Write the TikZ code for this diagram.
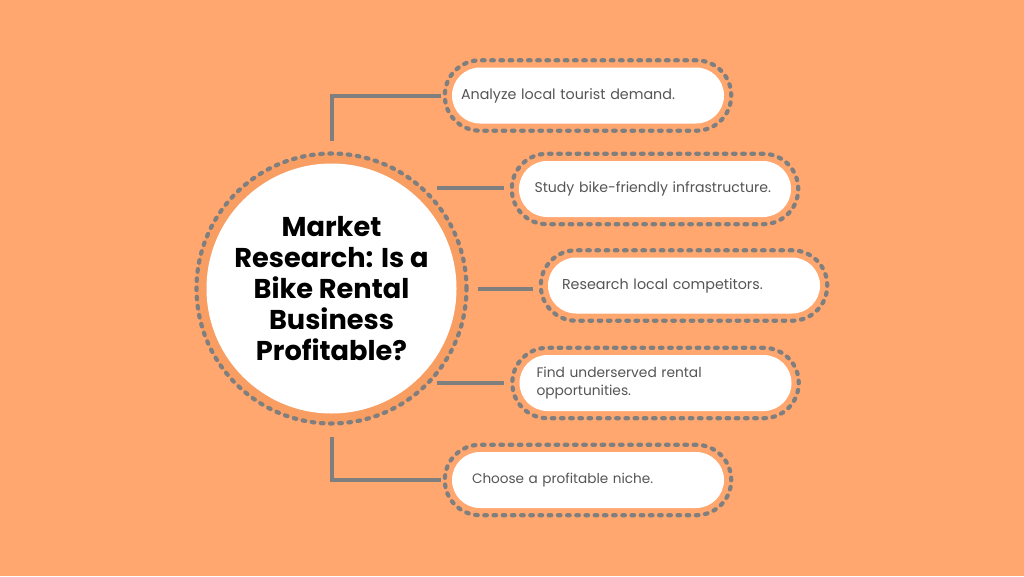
\documentclass[tikz,border=0pt]{standalone}
\usepackage{fontspec}
\setmainfont{Poppins}
\usetikzlibrary{fit,calc}
\hyphenpenalty=10000
\definecolor{bgorange}{HTML}{FFA76F}
\definecolor{ringorange}{HTML}{F89E63}
\definecolor{dotgrey}{HTML}{7F7F7F}
\definecolor{txtgrey}{HTML}{555555}
\tikzset{
  dots/.style={draw=dotgrey, line width=4.2pt, line cap=round, dash pattern=on 2.6pt off 6.6pt},
  pill/.style={fill=white, rounded corners=28pt, minimum width=272pt, minimum height=56pt,
    text width=#1, align=left, font=\fontsize{14.3}{17.5}\selectfont, text=txtgrey, inner ysep=0pt},
  outline/.style={dots, rounded corners=35pt, inner sep=7pt},
  link/.style={draw=dotgrey, line width=4pt},
}
\begin{document}
\begin{tikzpicture}[x=1pt,y=-1pt]
\fill[bgorange] (0,0) rectangle (1024,576);
\useasboundingbox (0,0) rectangle (1024,576);
% central circle
\node[dots, circle, fill=ringorange, minimum size=270pt, inner sep=0pt] (ring) at (331.5,288.5) {};
\node[circle, fill=white, minimum size=250pt, inner sep=0pt, align=center,
  font=\bfseries\fontsize{27.2}{31}\selectfont, text=black] (c) at (331.5,288.5)
  {Market\\Research: Is a\\Bike Rental\\Business\\Profitable?};
% pills
\node[pill=254pt, inner xsep=9pt] (p1) at (588,95.5) {Analyze local tourist demand.};
\node[pill=241pt, inner xsep=15.5pt, font=\fontsize{14.1}{17.5}\selectfont] (p2) at (655,189) {Study bike-friendly infrastructure.};
\node[pill=244pt, inner xsep=14pt] (p3) at (684,285.5) {Research local competitors.};
\node[pill=238pt, inner xsep=17pt, font=\fontsize{13.8}{17.2}\selectfont] (p4) at (655.5,383) {Find underserved rental\\opportunities.};
\node[pill=232pt, inner xsep=20pt, font=\fontsize{13.6}{17}\selectfont] (p5) at (588,480) {Choose a profitable niche.};
\foreach \i in {1,...,5}{\node[outline, fit=(p\i)] (o\i) {};}
% connectors
\coordinate (s1) at ($(c.center)+(0,-148)$);
\coordinate (s2) at (437,188);
\coordinate (s3) at ($(c.center)+(146,0)$);
\coordinate (s4) at (437,383);
\coordinate (s5) at ($(c.center)+(0,148)$);
\draw[link] (s1) |- ([xshift=-2pt]o1.west);
\draw[link] (s2) -- ([xshift=-6pt]o2.west |- s2);
\draw[link] (s3) -- ([xshift=-6pt]o3.west |- s3);
\draw[link] (s4) -- ([xshift=-6pt]o4.west |- s4);
\draw[link] (s5) |- ([xshift=-2pt]o5.west);
\end{tikzpicture}
\end{document}
